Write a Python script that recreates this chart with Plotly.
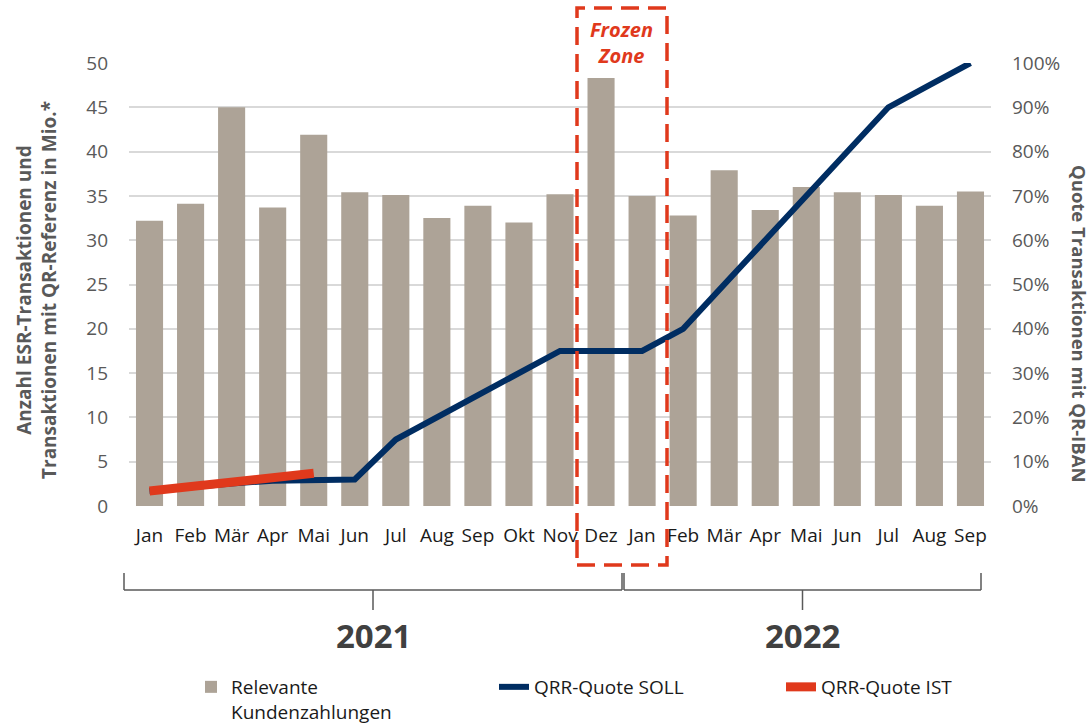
import plotly.graph_objects as go

months = ["Jan", "Feb", "Mär", "Apr", "Mai", "Jun", "Jul", "Aug", "Sep", "Okt", "Nov", "Dez",
          "Jan", "Feb", "Mär", "Apr", "Mai", "Jun", "Jul", "Aug", "Sep"]
years = ["2021"] * 12 + ["2022"] * 9
categories = [f"{m} {y}" for m, y in zip(months, years)]

zahlungen = [32.2, 34.1, 45.0, 33.7, 41.9, 35.4, 35.1, 32.5, 33.9, 32.0, 35.2, 48.3,
             35.0, 32.8, 37.9, 33.4, 36.0, 35.4, 35.1, 33.9, 35.5]
soll = [3.4, 4.3, 5.1, 5.7, 6.0, 6.0, 15, 20, 25, 30, 35, 35,
        35, 40, 50, 60, 70, 80, 90, 95, 100]
ist_categories = categories[:5]
ist = [3.4, 4.4, 5.4, 6.4, 7.4]

BAR = "#ada397"
NAVY = "#002d62"
RED = "#e0391c"
FONT = "Open Sans"

fig = go.Figure()
fig.add_trace(go.Bar(x=categories, y=zahlungen, name="Relevante<br>Kundenzahlungen",
                     marker=dict(color=BAR, line=dict(width=0)), legend="legend", showlegend=True))
fig.add_trace(go.Scatter(x=categories, y=soll, name="QRR-Quote SOLL", yaxis="y2",
                         mode="lines", line=dict(color=NAVY, width=6), legend="legend2"))
fig.add_trace(go.Scatter(x=ist_categories, y=ist, name="QRR-Quote IST", yaxis="y2",
                         mode="lines", line=dict(color=RED, width=9), legend="legend3"))

L, W, T, H = 129, 862, 63, 443


def px(x):
    return (x - L) / W


def py(y):
    return (T + H - y) / H


shapes = []
# Frozen zone
shapes.append(dict(type="rect", xref="paper", yref="paper", x0=px(577), x1=px(667),
                   y0=py(565), y1=py(8), line=dict(color=RED, width=3.5, dash="18px,9px"),
                   fillcolor="rgba(0,0,0,0)", layer="above"))
# Year brackets
bc = "#595959"
for x0, x1 in [(124, 622), (624, 981)]:
    shapes.append(dict(type="line", xref="paper", yref="paper", x0=px(x0), x1=px(x1),
                       y0=py(590), y1=py(590), line=dict(color=bc, width=1.5)))
    shapes.append(dict(type="line", xref="paper", yref="paper", x0=px(x0), x1=px(x0),
                       y0=py(573), y1=py(590), line=dict(color=bc, width=1.5)))
    shapes.append(dict(type="line", xref="paper", yref="paper", x0=px(x1), x1=px(x1),
                       y0=py(573), y1=py(590), line=dict(color=bc, width=1.5)))
    xc = (x0 + x1) / 2
    shapes.append(dict(type="line", xref="paper", yref="paper", x0=px(xc), x1=px(xc),
                       y0=py(590), y1=py(610), line=dict(color=bc, width=1.5)))

annotations = [
    dict(text="<b><i>Frozen<br>Zone</i></b>", xref="paper", yref="paper", x=px(621), y=py(42),
         showarrow=False, font=dict(family=FONT, size=20, color=RED), xanchor="center", yanchor="middle"),
    dict(text="<b>2021</b>", xref="paper", yref="paper", x=px(373), y=py(635), showarrow=False,
         font=dict(family=FONT, size=33, color="#404040"), xanchor="center", yanchor="middle"),
    dict(text="<b>2022</b>", xref="paper", yref="paper", x=px(802.5), y=py(635), showarrow=False,
         font=dict(family=FONT, size=33, color="#404040"), xanchor="center", yanchor="middle"),
    dict(text="<b>Anzahl ESR-Transaktionen und<br>Transaktionen mit QR-Referenz in Mio.*</b>",
         xref="paper", yref="paper", x=px(36), y=py(290), textangle=-90, showarrow=False,
         font=dict(family=FONT, size=19, color="#595959"), xanchor="center", yanchor="middle"),
    dict(text="<b>Quote Transaktionen mit QR-IBAN</b>",
         xref="paper", yref="paper", x=px(1079), y=py(323), textangle=90, showarrow=False,
         font=dict(family=FONT, size=18.5, color="#595959"), xanchor="center", yanchor="middle"),
]

legend_common = dict(orientation="h", yanchor="top", xanchor="left", valign="top",
                     font=dict(family=FONT, size=19, color="#1a1a1a"), bgcolor="rgba(0,0,0,0)")

fig.update_layout(
    width=1092, height=726,
    showlegend=True,
    margin=dict(l=L, r=1092 - L - W, t=T, b=726 - T - H, autoexpand=False),
    paper_bgcolor="white", plot_bgcolor="white",
    font=dict(family=FONT, size=19, color="#595959"),
    bargap=0.34,
    xaxis=dict(type="category", categoryorder="array", categoryarray=categories,
               tickmode="array", tickvals=categories, ticktext=months,
               tickfont=dict(family=FONT, size=19, color="#1a1a1a"),
               showgrid=False, showline=False, zeroline=False,
               ticks="outside", ticklen=12, tickcolor="rgba(0,0,0,0)"),
    yaxis=dict(range=[0, 50], dtick=5, showgrid=True, gridcolor="#d9d9d9", gridwidth=1.5,
               zeroline=False, showline=False, ticklabelstandoff=20,
               tickfont=dict(family=FONT, size=19, color="#595959")),
    yaxis2=dict(range=[0, 100], dtick=10, ticksuffix="%", overlaying="y", side="right",
                showgrid=False, zeroline=False, showline=False, ticklabelstandoff=20,
                tickfont=dict(family=FONT, size=19, color="#595959")),
    legend=dict(x=px(191), y=py(668), **legend_common),
    legend2=dict(x=px(494), y=py(668), **legend_common),
    legend3=dict(x=px(781), y=py(668), **legend_common),
    shapes=shapes,
    annotations=annotations,
)

fig.write_html("out.html", config={"displayModeBar": False},
               post_script="document.body.style.margin='0';document.body.style.padding='0';")
